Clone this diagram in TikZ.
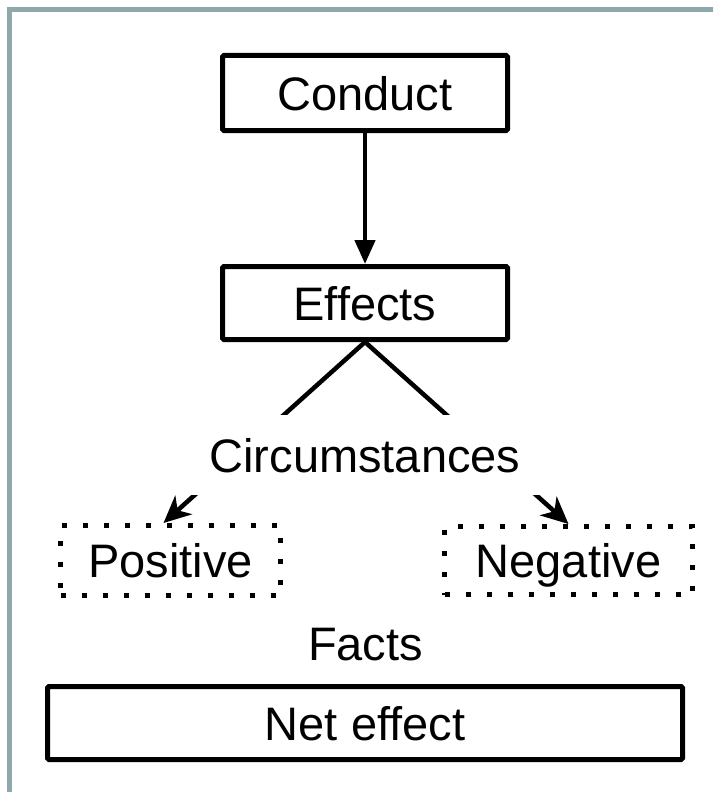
\documentclass[tikz,border=0pt]{standalone}
\usepackage{fontspec}
\setmainfont{Liberation Sans}
\usetikzlibrary{arrows.meta}
\definecolor{framegray}{RGB}{143,168,171}
\tikzset{
  box/.style={draw, line width=5pt, rounded corners=1.5pt, inner sep=0pt, text height=34pt, text depth=0pt, align=center},
  dotbox/.style={draw, line width=5pt, dash pattern=on 5pt off 16pt, inner sep=0pt, text height=34pt, text depth=0pt},
  plain/.style={inner sep=0pt, text height=34pt, text depth=0pt},
  conn/.style={line width=4.5pt},
  frameline/.style={draw=framegray, line width=5pt}
}
\begin{document}
\begin{tikzpicture}[x=1pt,y=-1pt,font=\fontsize{47}{56}\selectfont]
\useasboundingbox (0,0) rectangle (713,792);
\clip (0,0) rectangle (713,792);
\fill[white] (0,0) rectangle (713,792);
\draw[frameline] (9.5,800) -- (9.5,9.5) -- (720,9.5);

\node[box, minimum width=285pt, minimum height=75pt] (conduct) at (365,93) {Conduct};
\node[box, minimum width=285pt, minimum height=73pt] (effects) at (365,303) {Effects};
\node[dotbox, minimum width=220pt, minimum height=70pt] (pos) at (170.5,560.5) {Positive};
\node[dotbox, minimum width=248pt, minimum height=68pt] (neg) at (568.5,560.5) {Negative};
\node[plain] (facts) at (365.5,643.5) {Facts};
\node[box, minimum width=635pt, minimum height=73pt] (net) at (365,723) {Net effect};

\draw[conn, -{Triangle[length=24pt,width=20pt]}] (conduct) -- (effects);
\draw[conn, -{Stealth[length=27pt,width=25pt,inset=8pt]}] (effects.south) -- ([xshift=-7pt]pos.north);
\draw[conn, -{Stealth[length=27pt,width=25pt,inset=8pt]}] (effects.south) -- (neg.north);

\node[plain, fill=white, minimum width=360pt, minimum height=80pt] (circ) at (365,455) {Circumstances};
\end{tikzpicture}
\end{document}
